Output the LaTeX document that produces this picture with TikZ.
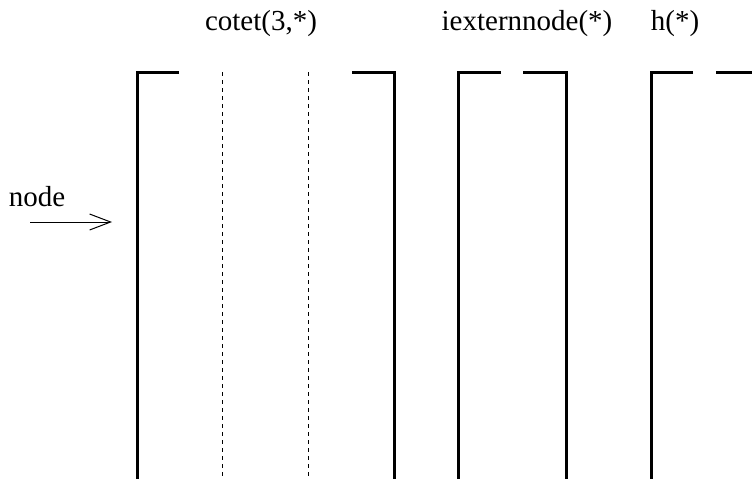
\documentclass[tikz,border=0pt]{standalone}
\usepackage{fontspec}
\setmainfont{Liberation Serif}
\usetikzlibrary{arrows.meta}
\begin{document}
\begin{tikzpicture}[x=1pt,y=-1pt,
  wall/.style={line width=3pt,line cap=butt},
  guide/.style={line width=0.8pt,dash pattern=on 4pt off 4pt},
  lbl/.style={inner sep=0pt,font=\fontsize{29}{34}\selectfont},
  feed/.style={line width=1pt,-{Straight Barb[length=21pt,width=16pt,line width=1pt]}}]
\useasboundingbox (0,0) rectangle (752,479);
% box 1
\draw[wall] (179,72) -- (137,72) -- (137,479);
\draw[wall] (352,72) -- (394,72) -- (394,479);
\draw[guide] (222,72) -- (222,479);
\draw[guide] (308,72) -- (308,479);
% box 2
\draw[wall] (501,72) -- (458,72) -- (458,479);
\draw[wall] (523,72) -- (566,72) -- (566,479);
% box 3
\draw[wall] (693,72) -- (651,72) -- (651,479);
\draw[wall] (716,72) -- (753,72);
% labels
\node[lbl] (cotet) at (261,24) {cotet(3,*)};
\node[lbl] (iext) at (527,24) {iexternnode(*)};
\node[lbl] (h) at (675,24) {h(*)};
\node[lbl] (nd) at (37,197) {node};
\coordinate (a0) at (30,222);
\coordinate (a1) at (112,222);
\draw[feed] (a0) -- (a1);
\end{tikzpicture}
\end{document}
